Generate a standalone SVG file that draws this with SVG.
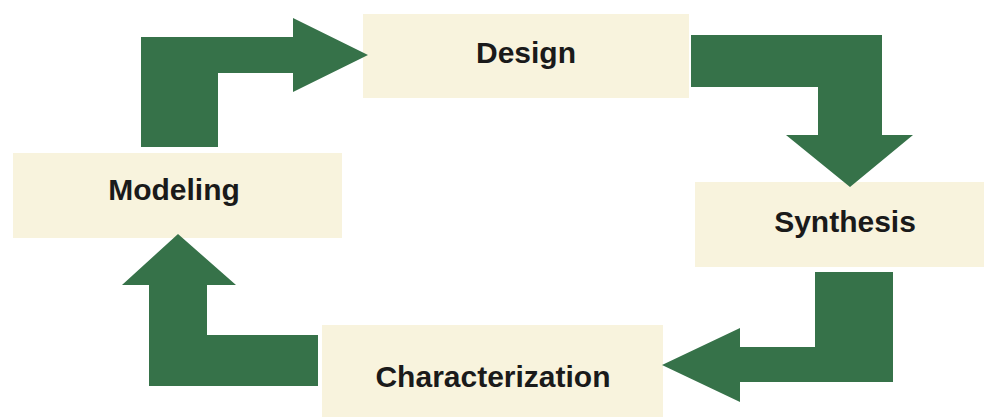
<svg xmlns="http://www.w3.org/2000/svg" width="984" height="417" viewBox="0 0 984 417">
<style>
.box{fill:#f8f3dd}
.lbl{font-family:"Liberation Sans",Arial,sans-serif;font-weight:bold;font-size:30px;fill:#1a1a1a;text-anchor:middle}
.arr{fill:#367249}
</style>
<rect width="984" height="417" fill="#ffffff"/>
<g id="node-design"><rect class="box" x="363" y="14" width="326" height="84"/><text class="lbl" x="526" y="63">Design</text></g>
<g id="node-synthesis"><rect class="box" x="695" y="182" width="289" height="85"/><text class="lbl" x="845" y="232">Synthesis</text></g>
<g id="node-characterization"><rect class="box" x="322" y="325" width="341" height="92"/><text class="lbl" x="493" y="387">Characterization</text></g>
<g id="node-modeling"><rect class="box" x="13" y="153" width="329" height="85"/><text class="lbl" x="174" y="200">Modeling</text></g>
<g id="connectors">
<polygon class="arr" points="141,147 141,37 293,37 293,18 368,55 293,92 293,73 218,73 218,147"/>
<polygon class="arr" points="691,35 882,35 882,135 913,135 850,187 786,135 818,135 818,87 691,87"/>
<polygon class="arr" points="893,272 893,382 740,382 740,402 662,365 740,328 740,347 815,347 815,272"/>
<polygon class="arr" points="318,386 149,386 149,285 122,285 178,234 236,285 207,285 207,335 318,335"/>
</g>
</svg>
